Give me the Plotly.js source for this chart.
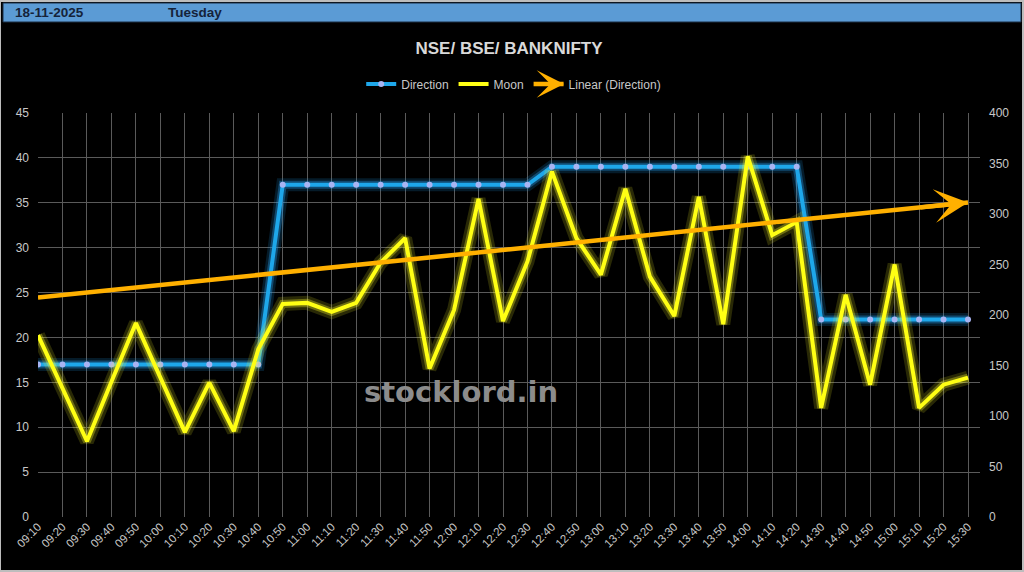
<!DOCTYPE html>
<html>
<head>
<meta charset="utf-8">
<script src="https://cdn.plot.ly/plotly-3.0.1.min.js"></script>
<style>
  html, body { margin: 0; padding: 0; background: #000; }
  #chart { width: 1024px; height: 572px; }
</style>
</head>
<body>
<div id="chart"></div>
<script>
// ---- data ----
var times = ["09:10","09:20","09:30","09:40","09:50","10:00","10:10","10:20","10:30","10:40",
             "10:50","11:00","11:10","11:20","11:30","11:40","11:50","12:00","12:10","12:20",
             "12:30","12:40","12:50","13:00","13:10","13:20","13:30","13:40","13:50","14:00",
             "14:10","14:20","14:30","14:40","14:50","15:00","15:10","15:20","15:30"];
var direction = [17,17,17,17,17,17,17,17,17,17,
                 37,37,37,37,37,37,37,37,37,37,
                 37,39,39,39,39,39,39,39,39,39,
                 39,39,22,22,22,22,22,22,22];
var moon = [180,128,75,134,192,138,84,133,85,166,
            211,212,203,212,252,276,147,205,315,194,
            253,342,276,240,325,238,199,317,191,357,
            279,292,108,220,131,250,108,131,138];
var leftTicks = [0,5,10,15,20,25,30,35,40,45];
var rightTicks = [0,50,100,150,200,250,300,350,400];
var headerDate = "18-11-2025";
var headerDay = "Tuesday";
var chartTitle = "NSE/ BSE/ BANKNIFTY";
var watermark = "stocklord.in";

// ---- linear trendline of Direction (least squares, like Excel "Linear (Direction)") ----
var n = direction.length, sx = 0, sy = 0, sxx = 0, sxy = 0;
for (var i = 0; i < n; i++) { sx += i; sy += direction[i]; sxx += i*i; sxy += i*direction[i]; }
var slope = (n*sxy - sx*sy) / (n*sxx - sx*sx);
var icpt = (sy - slope*sx) / n;
var trendX = [times[0], times[n-1]];
var trendY = [icpt, icpt + slope*(n-1)];

var FONT = "Liberation Sans, Arial, sans-serif";
var TXT = "#c8c8c8";
var ORANGE = "#ffb000";

var traces = [
  // Direction glow
  {x: times, y: direction, type: "scatter", mode: "lines", showlegend: false, hoverinfo: "skip",
   line: {color: "rgba(30,150,230,0.18)", width: 13}},
  {x: times, y: direction, type: "scatter", mode: "lines", showlegend: false, hoverinfo: "skip",
   line: {color: "rgba(40,160,240,0.35)", width: 8}},
  {x: times, y: direction, type: "scatter", mode: "lines+markers", name: "Direction",
   line: {color: "#1ea7ea", width: 4},
   marker: {color: "#a8b4f2", size: 6, line: {width: 0}}},
  // Moon glow
  {x: times, y: moon, yaxis: "y2", type: "scatter", mode: "lines", showlegend: false, hoverinfo: "skip",
   line: {color: "rgba(255,255,40,0.16)", width: 14}},
  {x: times, y: moon, yaxis: "y2", type: "scatter", mode: "lines", showlegend: false, hoverinfo: "skip",
   line: {color: "rgba(255,255,40,0.32)", width: 8}},
  {x: times, y: moon, yaxis: "y2", type: "scatter", mode: "lines", name: "Moon",
   line: {color: "#ffff14", width: 4}},
  // Trendline
  {x: trendX, y: trendY, yaxis: "y3", type: "scatter", mode: "lines", name: "Linear (Direction)",
   line: {color: ORANGE, width: 4.5}}
];

var layout = {
  width: 1024, height: 572,
  paper_bgcolor: "#000", plot_bgcolor: "#000",
  margin: {l: 38, r: 44, t: 113, b: 55},
  font: {family: FONT, color: TXT, size: 11},
  title: {text: "<b>" + chartTitle + "</b>", x: 0.5, xref: "paper", xanchor: "center",
          y: 1 - 48/572, yref: "container", yanchor: "middle",
          font: {family: FONT, size: 17, color: "#d9d9d9"}},
  showlegend: true,
  legend: {orientation: "h", x: 0.505, xanchor: "center", y: 1.072, yanchor: "middle",
           font: {family: FONT, size: 12, color: TXT}, bgcolor: "rgba(0,0,0,0)",
           itemclick: false, itemdoubleclick: false, tracegroupgap: 0},
  xaxis: {type: "category", range: [0, 38.49], showgrid: true, gridcolor: "#5a5a5a", gridwidth: 1,
          tickangle: -45, tickfont: {family: FONT, size: 11.5, color: TXT},
          showline: false, zeroline: false, ticks: "", fixedrange: true},
  yaxis: {range: [0, 45], tickvals: leftTicks, showgrid: true, gridcolor: "#5a5a5a", gridwidth: 1,
          zeroline: false, showline: false, ticks: "", ticklabelstandoff: 8,
          tickfont: {family: FONT, size: 12, color: TXT}, fixedrange: true},
  yaxis2: {range: [0, 400], tickvals: rightTicks, overlaying: "y", side: "right", showgrid: false,
           zeroline: false, showline: false, ticks: "", ticklabelstandoff: 8,
           tickfont: {family: FONT, size: 12, color: TXT}, fixedrange: true},
  yaxis3: {range: [0, 45], overlaying: "y", visible: false, showgrid: false, fixedrange: true},
  shapes: [
    // outer frame
    {type: "rect", xref: "paper", yref: "paper", layer: "below",
     x0: -38/942, x1: (1023-38)/942, y0: (517-571)/404, y1: (517-1)/404,
     line: {color: "#bdbdbd", width: 2}, fillcolor: "rgba(0,0,0,0)"},
    // header bar
    {type: "rect", xref: "paper", yref: "paper", layer: "below",
     x0: (3-38)/942, x1: (1021-38)/942, y0: (517-22)/404, y1: (517-3)/404,
     line: {color: "#1d2f45", width: 1}, fillcolor: "#5b9bd5"}
  ],
  annotations: [
    {text: "<b>" + headerDate + "</b>", xref: "paper", yref: "paper", showarrow: false,
     x: (13-38)/942, xanchor: "left", y: (517-12.5)/404, yanchor: "middle",
     font: {family: FONT, size: 13.5, color: "#15233a"}},
    {text: "<b>" + headerDay + "</b>", xref: "paper", yref: "paper", showarrow: false,
     x: (166-38)/942, xanchor: "left", y: (517-12.5)/404, yanchor: "middle",
     font: {family: FONT, size: 13.5, color: "#15233a"}},
    {text: "<b>" + watermark + "</b>", xref: "paper", yref: "paper", showarrow: false,
     x: (461-38)/942, xanchor: "center", y: (517-392)/404, yanchor: "middle",
     font: {family: "DejaVu Sans, Liberation Sans, sans-serif", size: 29, color: "#8c8c8c"}},
    // arrowhead at end of the trendline
    {text: "", xref: "x", yref: "y3", axref: "x", ayref: "y3",
     x: trendX[1], y: trendY[1], ax: times[n-3], ay: icpt + slope*(n-3),
     showarrow: true, arrowhead: 3, arrowsize: 1.25, arrowwidth: 4.5, arrowcolor: ORANGE, standoff: 0},
    // arrowhead on the legend symbol
    {text: "", xref: "paper", yref: "paper",
     x: (564-38)/942, y: (517-84)/404, ax: -30, ay: 0,
     showarrow: true, arrowhead: 3, arrowsize: 1.3, arrowwidth: 3.5, arrowcolor: ORANGE, standoff: 0}
  ]
};

Plotly.newPlot("chart", traces, layout, {displayModeBar: false, staticPlot: true});
</script>
</body>
</html>
